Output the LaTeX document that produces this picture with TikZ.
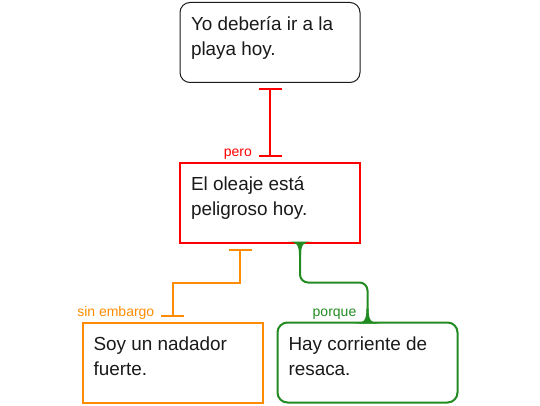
\documentclass[tikz,border=0pt]{standalone}
\usepackage{fontspec}
\setmainfont{Liberation Sans}
\usetikzlibrary{arrows.meta,calc,positioning}
\definecolor{Ink}{HTML}{1A1A1A}
\definecolor{Rojo}{HTML}{FF0000}
\definecolor{Naranja}{HTML}{FF8C00}
\definecolor{Verde}{HTML}{228B22}
\newcommand{\ideatext}[1]{\parbox[c][80pt][t]{158pt}{\rule{0pt}{28pt}#1}}
\tikzset{
  idea/.style={
    draw=Ink, line width=1pt, fill=white, text=Ink,
    inner xsep=11pt, inner ysep=0pt, outer sep=0pt,
    font=\fontsize{18.9}{25}\selectfont
  },
  ideaclaim/.style={idea, rounded corners=10pt},
  ideaobj/.style={idea, draw=Rojo, line width=2pt},
  ideacon/.style={idea, draw=Naranja, line width=2pt},
  ideapro/.style={idea, draw=Verde, line width=2pt, rounded corners=10pt},
  rel/.style={font=\fontsize{14}{17}\selectfont, anchor=base east, inner sep=0pt},
  barflow/.style={{Bar[width=23pt,sep=3.5pt]}-{Bar[width=23pt,sep=3.5pt]},
    line width=2pt, shorten <=2.5pt, shorten >=2.5pt},
  joinflow/.style={line width=2pt, draw=Verde, rounded corners=8pt}
}

\begin{document}
\begin{tikzpicture}[x=1pt,y=1pt,node distance=80pt]
    \useasboundingbox (0,0) rectangle (540,405);
    \node[ideaclaim] (claim) at (270,362.5) {\ideatext{Yo debería ir a la\\playa hoy.}};
    \node[ideaobj,below=of claim] (oleaje) {\ideatext{El oleaje está\\peligroso hoy.}};
    \node[ideacon,below=of oleaje,xshift=-97.5pt] (nadador) {\ideatext{Soy un nadador\\fuerte.}};
    \node[ideapro,below=of oleaje,xshift=97.5pt] (resaca) {\ideatext{Hay corriente de\\resaca.}};
    \coordinate (o1) at ($(oleaje.south)+(-30,0)$);
    \coordinate (g1) at ($(oleaje.south)+(30,0)$);
    \draw[barflow,Rojo] (claim.south) -- (oleaje.north);
    \draw[barflow,Naranja] (o1) |- ($(o1)!.5!(nadador.north)$) -| (nadador.north);
    \draw[joinflow] (g1) |- ($(g1)!.5!(resaca.north)$) -| (resaca.north);
    \fill[Verde] ($(g1)+(-12,1)$) .. controls ($(g1)+(-4,1)$) and ($(g1)+(-1,-2)$) .. ($(g1)+(-1,-12)$)
      -- ($(g1)+(1,-12)$) .. controls ($(g1)+(1,-2)$) and ($(g1)+(4,1)$) .. ($(g1)+(12,1)$) -- cycle;
    \fill[Verde] ($(resaca.north)+(-12,-1)$) .. controls ($(resaca.north)+(-4,-1)$) and ($(resaca.north)+(-1,2)$) .. ($(resaca.north)+(-1,14)$)
      -- ($(resaca.north)+(1,14)$) .. controls ($(resaca.north)+(1,2)$) and ($(resaca.north)+(4,-1)$) .. ($(resaca.north)+(12,-1)$) -- cycle;
    \node[rel,text=Rojo] (pero) at ($(oleaje.north)+(-18,6)$) {pero};
    \node[rel,text=Naranja] (sinembargo) at ($(nadador.north)+(-18,6)$) {sin embargo};
    \node[rel,text=Verde] (porque) at ($(resaca.north)+(-11,6)$) {porque};
  \end{tikzpicture}
\end{document}
